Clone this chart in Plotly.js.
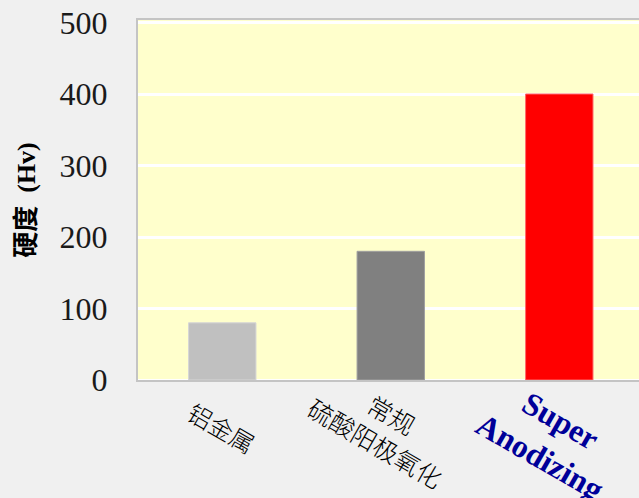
<!DOCTYPE html>
<html>
<head>
<meta charset="utf-8">
<script src="https://cdn.plot.ly/plotly-3.0.1.min.js"></script>
<style>html,body{margin:0;padding:0;background:#f0f0f0;}#chart{width:639px;height:498px;}</style>
</head>
<body>
<div id="chart"></div>
<script>
// Data
const categories = ["铝金属", "常规<br>硫酸阳极氧化", "Super<br>Anodizing"];
const hardness = [80, 180, 400];
const barColors = ["#c0c0c0", "#808080", "#ff0000"];
const barEdgeColors = ["#d6d6d6", "#a0a0a0", "#ff6a6a"];
const yTickVals = [0, 100, 200, 300, 400, 500];
const yTitle = "硬度&nbsp;&nbsp;(Hv)";

// label styling per category (not data)
const labelStyles = [
  {xshift: 0, yshift: -47, font: {family: "'Noto Sans CJK SC', sans-serif", size: 24, color: "#000", weight: 300}},
  {xshift: -7, yshift: -48, font: {family: "'Noto Sans CJK SC', sans-serif", size: 25, color: "#000", weight: 300}},
  {xshift: -9, yshift: -59, font: {family: "'Liberation Serif', 'Times New Roman', serif", size: 32, color: "#000099", weight: "bold"}}
];

const trace = {
  type: "bar",
  x: categories,
  y: hardness,
  width: 0.4,
  marker: {color: barColors, line: {color: barEdgeColors, width: 1}},
  hoverinfo: "none"
};

const annotations = categories.map((c, i) => ({
  x: c, xref: "x", y: 0, yref: "paper",
  text: i === 2 ? "<b>" + c + "</b>" : c,
  showarrow: false,
  textangle: 30,
  xanchor: "center", yanchor: "middle",
  xshift: labelStyles[i].xshift, yshift: labelStyles[i].yshift,
  font: labelStyles[i].font
}));

const layout = {
  width: 639, height: 498,
  margin: {l: 138, r: 0, t: 20, b: 118, pad: 0},
  paper_bgcolor: "#f0f0f0",
  plot_bgcolor: "#ffffcc",
  showlegend: false,
  xaxis: {
    type: "category",
    range: [-0.5, 2.473],
    showticklabels: false,
    ticks: "",
    showgrid: false,
    showline: true, linecolor: "#c4c4c4", linewidth: 2, mirror: true,
    fixedrange: true
  },
  yaxis: {
    range: [0, 503.5],
    tickvals: yTickVals,
    ticktext: yTickVals.map(String),
    ticks: "",
    ticklabelstandoff: 22,
    tickfont: {family: "'Liberation Serif', 'Times New Roman', serif", size: 32, color: "#1a1a1a"},
    showgrid: true, gridcolor: "#ffffff", gridwidth: 3,
    zeroline: true, zerolinecolor: "#ffffff", zerolinewidth: 3,
    showline: true, linecolor: "#c4c4c4", linewidth: 2,
    title: {
      text: "<b>" + yTitle + "</b>",
      font: {family: "'Liberation Serif', 'Noto Sans CJK SC', serif", size: 26, color: "#000"},
      standoff: 16
    },
    automargin: false,
    fixedrange: true
  },
  annotations: annotations
};

Plotly.newPlot("chart", [trace], layout, {displayModeBar: false, staticPlot: true});
</script>
</body>
</html>
